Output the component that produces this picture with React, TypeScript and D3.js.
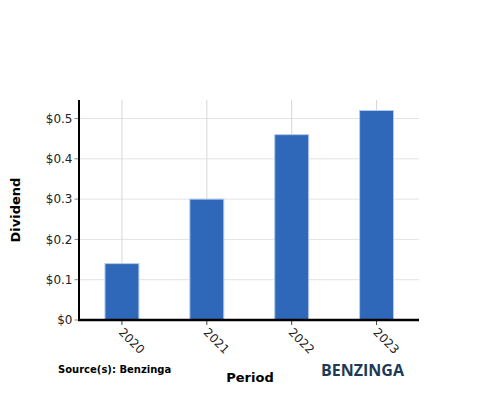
import React, { useEffect, useRef } from "react";
import * as d3 from "d3";

const categories = ["2020", "2021", "2022", "2023"];
const dividends = [0.14, 0.3, 0.46, 0.52];
const yTicks = [0, 0.1, 0.2, 0.3, 0.4, 0.5];
const yMax = 0.546;

export default function App() {
  const ref = useRef<SVGSVGElement | null>(null);
  useEffect(() => {
    const svg = d3.select(ref.current);
    svg.selectAll("*").remove();
    const left = 79.5, right = 419, top = 100, bottom = 320;
    const x = d3.scaleBand<string>().domain(categories).range([left, right]).padding(0);
    const y = d3.scaleLinear().domain([0, yMax]).range([bottom, top]);
    const font = "DejaVu Sans, sans-serif";

    svg.append("g").selectAll("line").data(yTicks).join("line")
      .attr("x1", left).attr("x2", right)
      .attr("y1", (d) => y(d)).attr("y2", (d) => y(d))
      .attr("stroke", "#e3e3e3").attr("stroke-width", 1);
    svg.append("g").selectAll("line").data(categories).join("line")
      .attr("x1", (d) => x(d)! + x.bandwidth() / 2).attr("x2", (d) => x(d)! + x.bandwidth() / 2)
      .attr("y1", top).attr("y2", bottom)
      .attr("stroke", "#d6d6d6").attr("stroke-width", 1);

    const bw = x.bandwidth() * 0.4;
    svg.append("g").selectAll("rect").data(dividends).join("rect")
      .attr("x", (_, i) => x(categories[i])! + x.bandwidth() / 2 - bw / 2)
      .attr("width", bw)
      .attr("y", (d) => y(d))
      .attr("height", (d) => bottom - y(d))
      .attr("fill", "#2f68b9")
      .attr("stroke", "#b5cbec").attr("stroke-width", 1);

    const ya = svg.append("g");
    ya.selectAll("line.t").data(yTicks).join("line").attr("class", "t")
      .attr("x1", left - 5).attr("x2", left).attr("y1", (d) => y(d)).attr("y2", (d) => y(d))
      .attr("stroke", "#888");
    ya.selectAll("text").data(yTicks).join("text")
      .attr("x", left - 7).attr("y", (d) => y(d)).attr("dy", "0.35em")
      .attr("text-anchor", "end").attr("font-family", font).attr("font-size", 12).attr("fill", "#222")
      .text((d) => d === 0 ? "$0" : "$" + d3.format(".1f")(d));
    ya.append("line").attr("x1", left - 0.5).attr("x2", left - 0.5).attr("y1", top).attr("y2", bottom + 1)
      .attr("stroke", "#000").attr("stroke-width", 2);

    const xa = svg.append("g");
    xa.selectAll("line.t").data(categories).join("line").attr("class", "t")
      .attr("x1", (d) => x(d)! + x.bandwidth() / 2).attr("x2", (d) => x(d)! + x.bandwidth() / 2)
      .attr("y1", bottom).attr("y2", bottom + 5).attr("stroke", "#444");
    xa.selectAll("text").data(categories).join("text")
      .attr("transform", (d) => `translate(${x(d)! + x.bandwidth() / 2 - 4},${bottom + 13}) rotate(45)`)
      .attr("text-anchor", "start").attr("font-family", font).attr("font-size", 12).attr("fill", "#222")
      .text((d) => d);
    xa.append("line").attr("x1", left - 1.5).attr("x2", right).attr("y1", bottom).attr("y2", bottom)
      .attr("stroke", "#000").attr("stroke-width", 2.5);

    svg.append("text").attr("transform", `translate(20,210) rotate(-90)`)
      .attr("text-anchor", "middle").attr("font-family", font).attr("font-size", 13)
      .attr("font-weight", "bold").attr("fill", "#000").text("Dividend");
    svg.append("text").attr("x", 250).attr("y", 382)
      .attr("text-anchor", "middle").attr("font-family", font).attr("font-size", 13)
      .attr("font-weight", "bold").attr("fill", "#000").text("Period");
    svg.append("text").attr("x", 58).attr("y", 373)
      .attr("font-family", font).attr("font-size", 10)
      .attr("font-weight", "bold").attr("fill", "#000").text("Source(s): Benzinga");
    svg.append("text").attr("x", 321).attr("y", 376)
      .attr("font-family", "Open Sans, sans-serif").attr("font-size", 16)
      .attr("font-weight", "bold").attr("fill", "#1b3a57").text("BENZINGA");
  }, []);
  return (
    <svg ref={ref} width={500} height={400} style={{ position: "absolute", left: 0, top: 0, background: "#fff" }} />
  );
}
